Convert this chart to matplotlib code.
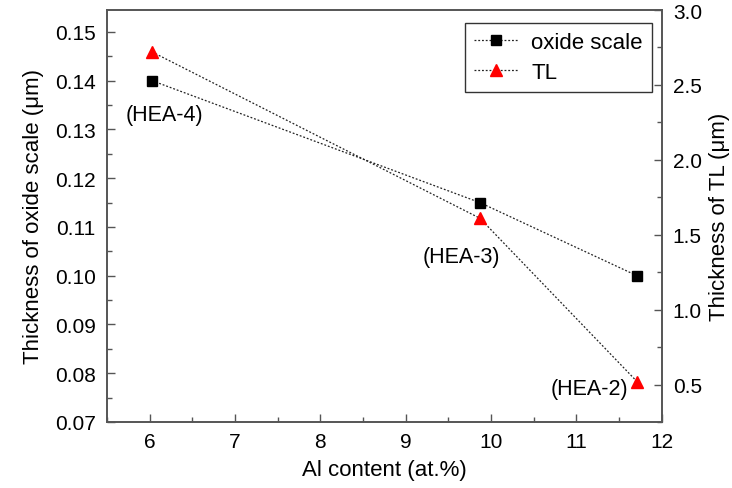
import matplotlib
matplotlib.use("Agg")
import matplotlib.pyplot as plt
from matplotlib.ticker import MultipleLocator, FormatStrFormatter

plt.rcParams['font.family'] = ['Liberation Sans', 'DejaVu Sans']

al_content = [6.03, 9.87, 11.71]
oxide_scale = [0.140, 0.115, 0.100]
tl_thickness = [2.72, 1.61, 0.52]
sample_labels = ['(HEA-4)', '(HEA-3)', '(HEA-2)']

fig = plt.figure(figsize=(7.32, 4.89), dpi=100)
ax = fig.add_axes([0.146, 0.135, 0.758, 0.8425])
ax2 = ax.twinx()

spine_col = '#555555'
l1, = ax.plot(al_content, oxide_scale, linestyle=(0, (1.5, 1.5)), color='#222222', lw=0.9,
              marker='s', markersize=7, markerfacecolor='black', markeredgecolor='black',
              label='oxide scale')
l2, = ax2.plot(al_content, tl_thickness, linestyle=(0, (1.5, 1.5)), color='#222222', lw=0.9,
               marker='^', markersize=9, markerfacecolor='red', markeredgecolor='red',
               label='TL')

ax.set_xlim(5.5, 12)
ax.set_ylim(0.07, 0.1545)
ax2.set_ylim(0.25, 3.0)

ax.xaxis.set_major_locator(MultipleLocator(1))
ax.xaxis.set_minor_locator(MultipleLocator(0.5))
ax.yaxis.set_major_locator(MultipleLocator(0.01))
ax.yaxis.set_minor_locator(MultipleLocator(0.005))
ax2.yaxis.set_major_locator(MultipleLocator(0.5))
ax2.yaxis.set_minor_locator(MultipleLocator(0.25))
ax.yaxis.set_major_formatter(FormatStrFormatter('%.2f'))
ax2.yaxis.set_major_formatter(FormatStrFormatter('%.1f'))

for a in (ax, ax2):
    for s in a.spines.values():
        s.set_color(spine_col)
        s.set_linewidth(1.2)
    a.tick_params(which='both', direction='in', colors=spine_col, labelcolor='black',
                  labelsize=15, width=1.0)
    a.tick_params(which='major', length=6)
    a.tick_params(which='minor', length=3.5)
ax.tick_params(axis='y', which='both', right=False)
ax.tick_params(axis='x', which='both', top=False, pad=7)
ax.tick_params(axis='y', pad=8)
ax2.tick_params(axis='y', pad=8)

ax.set_xlabel('Al content (at.%)', fontsize=16, labelpad=6)
ax.set_ylabel('Thickness of oxide scale (μm)', fontsize=16, labelpad=8)
ax2.set_ylabel('Thickness of TL (μm)', fontsize=16, labelpad=5)

ax.annotate(sample_labels[0], (al_content[0], oxide_scale[0]), xytext=(-19, -24),
            textcoords='offset points', fontsize=15.5, ha='left', va='center')
ax.annotate(sample_labels[1], (al_content[1], oxide_scale[1]), xytext=(-13, -39),
            textcoords='offset points', fontsize=15.5, ha='center', va='center')
ax2.annotate(sample_labels[2], (al_content[2], tl_thickness[2]), xytext=(-6.5, -5),
             textcoords='offset points', fontsize=15.5, ha='right', va='center')

leg = ax.legend(handles=[l1, l2], loc='upper right', bbox_to_anchor=(0.982, 0.968),
                borderaxespad=0.0,
                fontsize=16, frameon=True, fancybox=False, edgecolor='black',
                borderpad=0.4, handlelength=2.0, labelspacing=0.4, handletextpad=0.6)
leg.get_frame().set_linewidth(1.0)
leg.set_zorder(10)

fig.savefig('out.png', dpi=100)
